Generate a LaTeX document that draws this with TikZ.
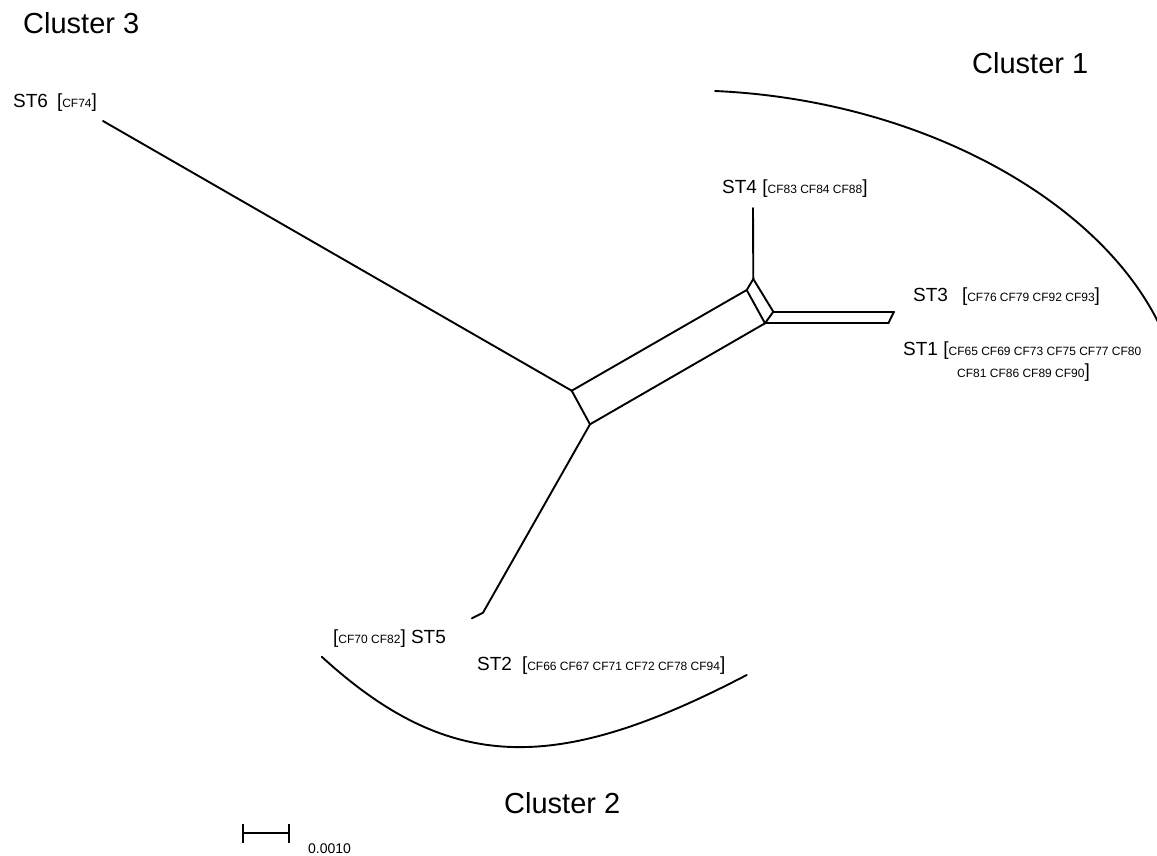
\documentclass[tikz,border=0pt]{standalone}
\usepackage{fontspec}
\setmainfont{Liberation Sans}
\newcommand{\cfsmall}[1]{{\fontsize{12}{14}\selectfont #1}}
\begin{document}
\begin{tikzpicture}[x=1pt,y=-1pt,
  edge/.style={line width=1.9pt,line join=round,line cap=round},
  arcline/.style={line width=1.9pt,line cap=round},
  stlabel/.style={anchor=base west,inner sep=0pt,font=\fontsize{19}{22}\selectfont},
  cluster/.style={anchor=base west,inner sep=0pt,font=\fontsize{29}{33}\selectfont}]
\useasboundingbox (0,0) rectangle (1157,855);
% junction coordinates
\coordinate (A) at (571.7,390.7);
\coordinate (B) at (590,424.3);
\coordinate (P) at (746.7,290);
\coordinate (C) at (753.3,279);
\coordinate (D) at (773.3,311.7);
\coordinate (E) at (765,323.3);
\coordinate (R1) at (894,311.7);
\coordinate (R2) at (888.3,323.3);
\coordinate (L6) at (103,121);
\coordinate (L4) at (753,208);
\coordinate (K5) at (483,612.7);
\coordinate (L5) at (472,618.3);
% edges
\draw[edge] (L6) -- (A);
\draw[edge] (A) -- (P);
\draw[edge] (A) -- (B);
\draw[edge] (B) -- (E);
\draw[edge] (P) -- (C);
\draw[edge] (P) -- (E);
\draw[edge] (C) -- (D);
\draw[edge] (D) -- (E);
\draw[edge] (C) -- (L4);
\draw[edge] (D) -- (R1);
\draw[edge] (E) -- (R2);
\draw[edge] (R1) -- (R2);
\draw[edge] (B) -- (K5) -- (L5);
% cluster arcs
\coordinate (a1s) at (715,91);
\coordinate (a1e) at (1160,326);
\coordinate (a2s) at (321.7,656.7);
\coordinate (a2e) at (746.7,675);
\draw[arcline] (a1s) .. controls (920,100) and (1100,200) .. (a1e);
\draw[arcline] (a2s) .. controls (450,774) and (557,774) .. (a2e);
% labels
\node[stlabel] (st6) at (13,107) {ST6\hspace{9pt}[\cfsmall{CF74}]};
\node[stlabel] (st4) at (722,193) {ST4 [\cfsmall{CF83 CF84 CF88}]};
\node[stlabel] (st3) at (913,301.7) {ST3\hspace{14pt}[\cfsmall{CF76 CF79 CF92 CF93}]};
\node[stlabel] (st1) at (903,355) {ST1 [\cfsmall{CF65 CF69 CF73 CF75 CF77 CF80}};
\node[stlabel] (st1b) at (957,377) {\cfsmall{CF81 CF86 CF89 CF90}]};
\node[stlabel] (st5) at (333,643) {[\cfsmall{CF70 CF82}] ST5};
\node[stlabel] (st2) at (477,670) {ST2\hspace{10pt}[\cfsmall{CF66 CF67 CF71 CF72 CF78 CF94}]};
\node[cluster] (c3) at (23,33) {Cluster 3};
\node[cluster] (c1) at (972,73) {Cluster 1};
\node[cluster] (c2) at (504,813) {Cluster 2};
% scale bar
\coordinate (SBl) at (242.7,833.3);
\coordinate (SBr) at (289,833.3);
\draw[line width=2pt] (SBl) -- (SBr);
\draw[line width=2pt] ([yshift=-9.3pt]SBl) -- ([yshift=9.3pt]SBl);
\draw[line width=2pt] ([yshift=-9.3pt]SBr) -- ([yshift=9.3pt]SBr);
\node[anchor=base west,inner sep=0pt,font=\fontsize{14}{16}\selectfont] (sb) at (308,853) {0.0010};
\end{tikzpicture}
\end{document}
